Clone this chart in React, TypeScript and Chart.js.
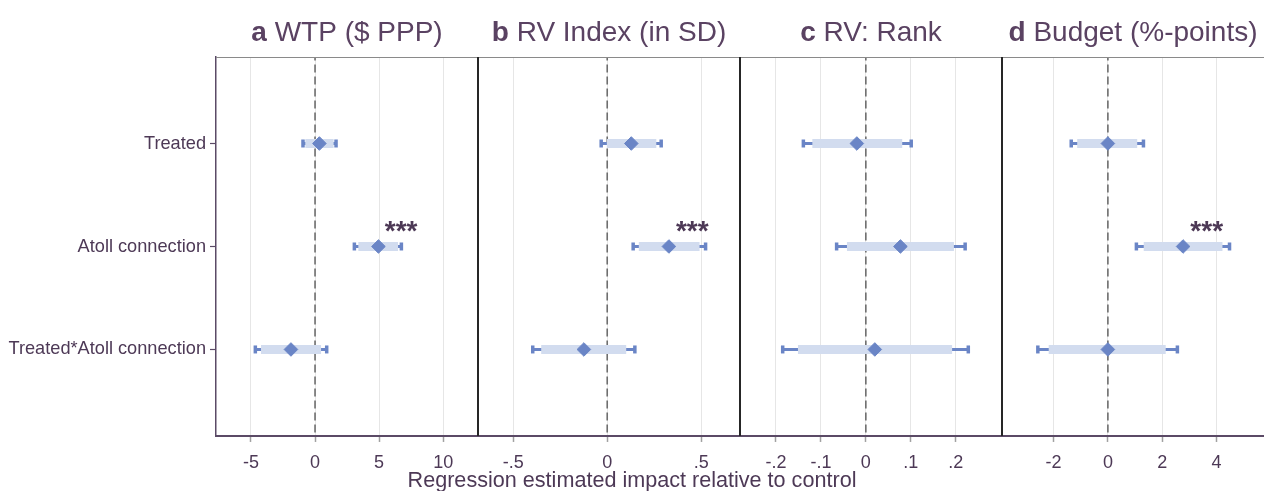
import React, { useEffect, useRef } from "react";
import { Chart, registerables } from "chart.js";

Chart.register(...registerables);

// ---------- data ----------
const rowLabels = ["Treated", "Atoll connection", "Treated*Atoll connection"];
const panelLetters = ["a", "b", "c", "d"];
const panelTitles = ["WTP ($ PPP)", "RV Index (in SD)", "RV: Rank", "Budget (%-points)"];
const xAxisTitle = "Regression estimated impact relative to control";

const wtpEstimate = [0.34, 4.95, -1.88];
const wtpLow95 = [-0.94, 3.07, -4.66];
const wtpHigh95 = [1.64, 6.74, 0.91];
const wtpLow90 = [-0.76, 3.38, -4.22];
const wtpHigh90 = [1.45, 6.48, 0.47];

const rvIndexEstimate = [0.128, 0.328, -0.124];
const rvIndexLow95 = [-0.032, 0.138, -0.396];
const rvIndexHigh95 = [0.287, 0.523, 0.147];
const rvIndexLow90 = [-0.002, 0.168, -0.351];
const rvIndexHigh90 = [0.261, 0.491, 0.101];

const rvRankEstimate = [-0.02, 0.077, 0.02];
const rvRankLow95 = [-0.139, -0.065, -0.185];
const rvRankHigh95 = [0.101, 0.221, 0.228];
const rvRankLow90 = [-0.119, -0.042, -0.151];
const rvRankHigh90 = [0.081, 0.196, 0.192];

const budgetEstimate = [0.0, 2.77, 0.0];
const budgetLow95 = [-1.35, 1.05, -2.58];
const budgetHigh95 = [1.31, 4.48, 2.56];
const budgetLow90 = [-1.13, 1.32, -2.18];
const budgetHigh90 = [1.08, 4.22, 2.13];

const significance = [
  ["", "***", ""],
  ["", "***", ""],
  ["", "", ""],
  ["", "***", ""],
];
const starX = [6.72, 0.452, 0, 3.64];

const wtpTicks = [-5, 0, 5, 10];
const wtpTickLabels = ["-5", "0", "5", "10"];
const rvIndexTicks = [-0.5, 0, 0.5];
const rvIndexTickLabels = ["-.5", "0", ".5"];
const rvRankTicks = [-0.2, -0.1, 0, 0.1, 0.2];
const rvRankTickLabels = ["-.2", "-.1", "0", ".1", ".2"];
const budgetTicks = [-2, 0, 2, 4];
const budgetTickLabels = ["-2", "0", "2", "4"];

const axisMin = [-7.73, -0.687, -0.28, -3.9];
const axisMax = [12.72, 0.706, 0.303, 5.75];

// ---------- assembly ----------
const panels = [
  { est: wtpEstimate, lo95: wtpLow95, hi95: wtpHigh95, lo90: wtpLow90, hi90: wtpHigh90, ticks: wtpTicks, labels: wtpTickLabels },
  { est: rvIndexEstimate, lo95: rvIndexLow95, hi95: rvIndexHigh95, lo90: rvIndexLow90, hi90: rvIndexHigh90, ticks: rvIndexTicks, labels: rvIndexTickLabels },
  { est: rvRankEstimate, lo95: rvRankLow95, hi95: rvRankHigh95, lo90: rvRankLow90, hi90: rvRankHigh90, ticks: rvRankTicks, labels: rvRankTickLabels },
  { est: budgetEstimate, lo95: budgetLow95, hi95: budgetHigh95, lo90: budgetLow90, hi90: budgetHigh90, ticks: budgetTicks, labels: budgetTickLabels },
];
const axisIds = ["xa", "xb", "xc", "xd"];

const TEXT = "#4d3956";
const TITLE = "#5a4262";
const DARK_BLUE = "#6a85c6";
const LIGHT_BLUE = "#d2dcef";
const FONT = "'Liberation Sans', Arial, sans-serif";

const overlayPlugin = {
  id: "overlay",
  afterDraw(chart: any) {
    const ctx = chart.ctx;
    const area = chart.chartArea;
    const y = chart.scales.y;
    ctx.save();
    // top border
    ctx.strokeStyle = "#8a8a8a";
    ctx.lineWidth = 1;
    ctx.beginPath();
    ctx.moveTo(area.left, area.top + 0.5);
    ctx.lineTo(area.right, area.top + 0.5);
    ctx.stroke();
    // separators
    ctx.strokeStyle = "#262626";
    ctx.lineWidth = 2;
    axisIds.forEach((id, i) => {
      if (i === 0) return;
      const s = chart.scales[id];
      ctx.beginPath();
      ctx.moveTo(s.left, area.top);
      ctx.lineTo(s.left, area.bottom);
      ctx.stroke();
    });
    // titles
    axisIds.forEach((id, i) => {
      const s = chart.scales[id];
      const cx = (s.left + s.right) / 2;
      const boldFont = `bold 28px ${FONT}`;
      const regFont = `28px ${FONT}`;
      ctx.font = boldFont;
      const w1 = ctx.measureText(panelLetters[i]).width;
      ctx.font = regFont;
      const rest = " " + panelTitles[i];
      const w2 = ctx.measureText(rest).width;
      const x0 = cx - (w1 + w2) / 2;
      ctx.fillStyle = TITLE;
      ctx.textBaseline = "alphabetic";
      ctx.textAlign = "left";
      ctx.font = boldFont;
      ctx.fillText(panelLetters[i], x0, 41);
      ctx.font = regFont;
      ctx.fillText(rest, x0 + w1, 41);
    });
    // significance stars
    ctx.font = `bold 28px ${FONT}`;
    ctx.fillStyle = TEXT;
    ctx.textAlign = "center";
    ctx.textBaseline = "alphabetic";
    axisIds.forEach((id, i) => {
      const s = chart.scales[id];
      significance[i].forEach((txt, r) => {
        if (!txt) return;
        ctx.fillText(txt, s.getPixelForValue(starX[i]), y.getPixelForValue(r + 1) - 6);
      });
    });
    ctx.restore();
  },
};

export default function App() {
  const canvasRef = useRef<HTMLCanvasElement | null>(null);

  useEffect(() => {
    if (!canvasRef.current) return;
    Chart.defaults.font.family = FONT;

    const datasets: any[] = [];
    panels.forEach((p, i) => {
      const xAxisID = axisIds[i];
      datasets.push({
        xAxisID, yAxisID: "y", showLine: true,
        data: [{ x: 0, y: 0 }, { x: 0, y: 4 }],
        borderColor: "#6e6e6e", borderWidth: 1.6, borderDash: [8, 4],
        pointRadius: 0, order: 5,
      });
      rowLabels.forEach((_, r) => {
        const yv = r + 1;
        datasets.push({
          xAxisID, yAxisID: "y", showLine: true,
          data: [{ x: p.lo95[r], y: yv }, { x: p.hi95[r], y: yv }],
          borderColor: DARK_BLUE, borderWidth: 3, pointRadius: 0, order: 4,
        });
        datasets.push({
          xAxisID, yAxisID: "y", showLine: true,
          data: [{ x: p.lo90[r], y: yv }, { x: p.hi90[r], y: yv }],
          borderColor: LIGHT_BLUE, borderWidth: 9, borderCapStyle: "butt", pointRadius: 0, order: 3,
        });
        datasets.push({
          xAxisID, yAxisID: "y", showLine: false,
          data: [{ x: p.lo95[r], y: yv }, { x: p.hi95[r], y: yv }],
          pointStyle: "line", rotation: 90, pointRadius: 4,
          borderColor: DARK_BLUE, pointBorderColor: DARK_BLUE, pointBorderWidth: 3.5, order: 1,
        });
        datasets.push({
          xAxisID, yAxisID: "y", showLine: false,
          data: [{ x: p.est[r], y: yv }],
          pointStyle: "rectRot", pointRadius: 6.8,
          pointBackgroundColor: DARK_BLUE, pointBorderColor: DARK_BLUE, pointBorderWidth: 1, order: 0,
        });
      });
    });

    const scales: any = {
      y: {
        type: "linear",
        reverse: true,
        min: 0.16,
        max: 3.84,
        afterBuildTicks: (s: any) => {
          s.ticks = rowLabels.map((_, i) => ({ value: i + 1 }));
        },
        afterFit: (s: any) => {
          s.width = 216;
        },
        ticks: {
          callback: (v: any) => rowLabels[Math.round(v) - 1] ?? "",
          color: TEXT,
          font: { size: 18.2, family: FONT },
          padding: 4,
          autoSkip: false,
        },
        grid: { drawOnChartArea: false, drawTicks: true, tickLength: 6, tickColor: "#5b4a66", tickWidth: 1.2 },
        border: { display: true, color: "#5b4a66", width: 1.5 },
      },
    };
    panels.forEach((p, i) => {
      scales[axisIds[i]] = {
        type: "linear",
        position: "bottom",
        stack: "panels",
        stackWeight: 1,
        min: axisMin[i],
        max: axisMax[i],
        afterBuildTicks: (s: any) => {
          s.ticks = p.ticks.map((v) => ({ value: v }));
        },
        afterFit: (s: any) => {
          s.height = 35.6;
          s.paddingLeft = 0;
          s.paddingRight = 0;
        },
        ticks: {
          callback: (v: any, idx: number) => p.labels[idx],
          color: TEXT,
          font: { size: 18, family: FONT },
          padding: 10,
          autoSkip: false,
          maxRotation: 0,
        },
        grid: { color: "#e6e6e6", lineWidth: 1, drawTicks: true, tickLength: 6, tickColor: "#a0a0a0", tickWidth: 1.5 },
        border: { display: true, color: "#5b4a66", width: 2 },
      };
    });

    const chart = new Chart(canvasRef.current, {
      type: "scatter",
      data: { datasets },
      options: {
        responsive: false,
        animation: false,
        devicePixelRatio: 1,
        layout: { autoPadding: false, padding: { top: 57, left: 0, right: 0, bottom: 0 } },
        plugins: {
          legend: { display: false },
          tooltip: { enabled: false },
          title: {
            display: true,
            position: "bottom",
            text: xAxisTitle,
            color: TEXT,
            font: { size: 21.6, weight: "normal", family: FONT, lineHeight: 0.9 },
            padding: { top: 0, bottom: 0 },
          },
        },
        scales,
      } as any,
      plugins: [overlayPlugin],
    });
    return () => chart.destroy();
  }, []);

  return (
    <div style={{ position: "absolute", left: 0, top: 0, width: 1264, height: 491, background: "#fff" }}>
      <canvas ref={canvasRef} width={1264} height={491} style={{ width: 1264, height: 491, display: "block" }} />
    </div>
  );
}
